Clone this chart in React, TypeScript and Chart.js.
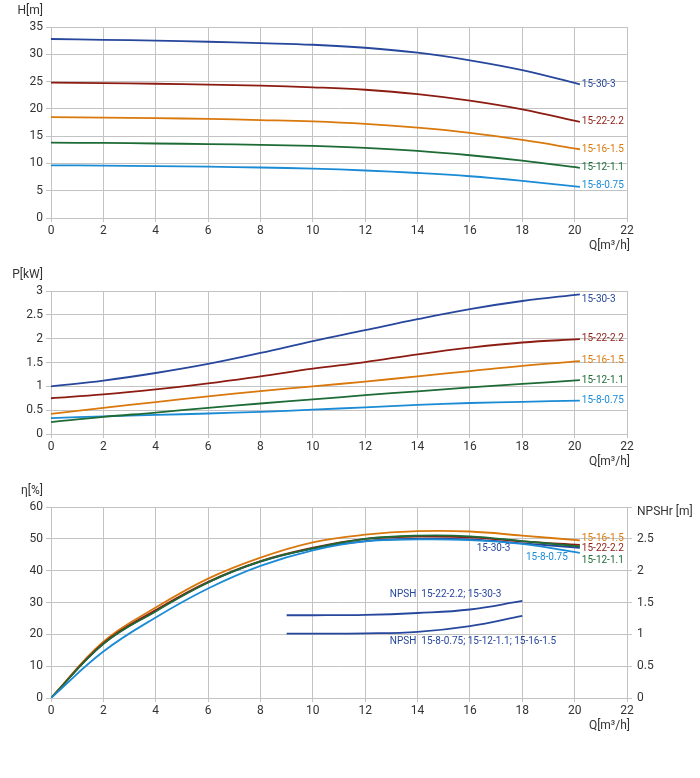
import { useEffect, useRef } from "react"
import { Chart, registerables } from "chart.js"

Chart.register(...registerables)

// flow points Q [m3/h]
const FLOW = [0, 2, 4, 6, 8, 10, 12, 14, 16, 18, 20.2]
const EFF_FLOW = [0, 2, 4, 6, 8, 10, 12, 14, 16, 18, 20.2]
const NPSH_FLOW = [9, 10, 12, 14, 16, 18]

const MODELS = ["15-30-3", "15-22-2.2", "15-16-1.5", "15-12-1.1", "15-8-0.75"]
const COLORS = ["#27479d", "#8c1c12", "#d9780c", "#1d6b35", "#1b8bd5"]

// H [m]
const HEAD_30 = [32.8, 32.65, 32.5, 32.3, 32.05, 31.75, 31.2, 30.3, 28.9, 27.1, 24.5]
const HEAD_22 = [24.8, 24.7, 24.6, 24.45, 24.25, 23.95, 23.5, 22.7, 21.5, 19.9, 17.6]
const HEAD_16 = [18.5, 18.4, 18.3, 18.15, 17.95, 17.7, 17.25, 16.55, 15.6, 14.3, 12.6]
const HEAD_12 = [13.8, 13.75, 13.65, 13.55, 13.4, 13.2, 12.85, 12.3, 11.5, 10.5, 9.2]
const HEAD_8 = [9.65, 9.6, 9.5, 9.4, 9.25, 9.05, 8.7, 8.25, 7.65, 6.8, 5.7]

// P [kW]
const POWER_30 = [1.0, 1.12, 1.28, 1.47, 1.7, 1.95, 2.18, 2.41, 2.62, 2.79, 2.93]
const POWER_22 = [0.75, 0.83, 0.935, 1.06, 1.21, 1.37, 1.51, 1.67, 1.81, 1.92, 1.99]
const POWER_16 = [0.42, 0.55, 0.67, 0.79, 0.9, 1.0, 1.1, 1.21, 1.32, 1.43, 1.53]
const POWER_12 = [0.25, 0.36, 0.45, 0.55, 0.64, 0.725, 0.815, 0.895, 0.98, 1.05, 1.13]
const POWER_8 = [0.335, 0.37, 0.4, 0.43, 0.465, 0.51, 0.56, 0.61, 0.65, 0.675, 0.7]

// eta [%]
const EFF_30 = [0, 17.0, 27.4, 36.3, 42.8, 46.9, 49.3, 50.0, 49.8, 48.6, 47.2]
const EFF_22 = [0, 17.2, 27.6, 36.5, 43.0, 47.2, 50.0, 50.7, 50.5, 49.2, 48.1]
const EFF_16 = [0, 17.7, 28.4, 37.5, 44.1, 48.9, 51.3, 52.4, 52.3, 51.0, 49.5]
const EFF_12 = [0, 17.0, 27.2, 36.3, 42.9, 47.0, 50.0, 51.0, 50.8, 49.3, 47.6]
const EFF_8 = [0, 14.6, 25.3, 34.4, 41.5, 46.4, 49.2, 49.8, 49.6, 48.4, 45.6]

// NPSHr [m]
const NPSH_HIGH = [1.3, 1.3, 1.305, 1.335, 1.39, 1.525]
const NPSH_LOW = [1.01, 1.01, 1.015, 1.04, 1.13, 1.29]

const GRID = "#c3c3c3"
const FONT = "Roboto"

const pts = (xs: number[], ys: number[]) => xs.map((x, i) => ({ x, y: ys[i] }))

const line = (label: string, color: string, data: { x: number; y: number }[], axis = "y") => ({
  label,
  data,
  borderColor: color,
  borderWidth: 1.8,
  pointRadius: 0,
  tension: 0.4,
  yAxisID: axis,
})

// draws titles and curve labels as canvas text
const textPlugin = {
  id: "pumpText",
  afterDraw(chart: any, _args: any, opts: any) {
    const { ctx, chartArea, scales } = chart
    ctx.save()
    ctx.textBaseline = "middle"
    ctx.font = `12px ${FONT}`
    ctx.fillStyle = "#333"
    ctx.textAlign = "right"
    ctx.fillText(opts.yTitle, 43, chartArea.top - 16)
    ctx.fillText("Q[m³/h]", 630, chartArea.bottom + 28)
    if (opts.rightTitle) {
      ctx.textAlign = "left"
      ctx.fillText(opts.rightTitle, 637, chartArea.top + 5)
    }
    ctx.font = `10px ${FONT}`
    ctx.textAlign = "left"
    for (const t of opts.items ?? []) {
      ctx.fillStyle = t.color
      const px = scales.x.getPixelForValue(t.x) + (t.dx ?? 0)
      const py = scales[t.axis ?? "y"].getPixelForValue(t.y) + (t.dy ?? 0)
      ctx.fillText(t.text, px, py)
    }
    ctx.restore()
  },
}

const tickFont = { family: FONT, size: 12 }

function xScale() {
  return {
    type: "linear",
    min: 0,
    max: 22,
    ticks: { stepSize: 2, padding: 2, color: "#333", font: tickFont },
    grid: { color: GRID, tickLength: 4 },
    border: { color: GRID },
    afterFit: (s: any) => {
      s.height = 20
    },
  }
}

function yScale(max: number, step: number) {
  return {
    type: "linear",
    position: "left",
    min: 0,
    max,
    ticks: { stepSize: step, padding: 3, color: "#333", font: tickFont, callback: (v: number) => String(v) },
    grid: { color: GRID, tickLength: 5 },
    border: { color: GRID },
    afterFit: (s: any) => {
      s.width = 51
    },
  }
}

function endLabels(series: number[][], flow: number[], dys: number[]) {
  return series.map((s, i) => ({
    text: MODELS[i],
    color: COLORS[i],
    x: flow[flow.length - 1],
    y: s[s.length - 1],
    dx: 2,
    dy: dys[i],
  }))
}

function useChart(ref: React.RefObject<HTMLCanvasElement | null>, build: () => any) {
  useEffect(() => {
    if (!ref.current) return
    const chart = new Chart(ref.current, build())
    return () => chart.destroy()
  }, [])
}

function headConfig() {
  const series = [HEAD_30, HEAD_22, HEAD_16, HEAD_12, HEAD_8]
  return {
    type: "line",
    data: { datasets: series.map((s, i) => line(MODELS[i], COLORS[i], pts(FLOW, s))) },
    options: {
      animation: false,
      responsive: false,
      layout: { padding: { top: 27, right: 73, bottom: 17, left: 0 } },
      scales: { x: xScale(), y: yScale(35, 5) },
      plugins: {
        legend: { display: false },
        tooltip: { enabled: false },
        pumpText: { yTitle: "H[m]", items: endLabels(series, FLOW, [0, 0, 0, 0, -1]) },
      },
    },
    plugins: [textPlugin],
  }
}

function powerConfig() {
  const series = [POWER_30, POWER_22, POWER_16, POWER_12, POWER_8]
  return {
    type: "line",
    data: { datasets: series.map((s, i) => line(MODELS[i], COLORS[i], pts(FLOW, s))) },
    options: {
      animation: false,
      responsive: false,
      layout: { padding: { top: 36, right: 73, bottom: 21, left: 0 } },
      scales: { x: xScale(), y: yScale(3, 0.5) },
      plugins: {
        legend: { display: false },
        tooltip: { enabled: false },
        pumpText: { yTitle: "P[kW]", items: endLabels(series, FLOW, [5, -1, -1, 0, 0]) },
      },
    },
    plugins: [textPlugin],
  }
}

function efficiencyConfig() {
  const series = [EFF_30, EFF_22, EFF_16, EFF_12, EFF_8]
  const order = [4, 3, 1, 2, 0]
  const datasets = order.map((i) => line(MODELS[i], COLORS[i], pts(EFF_FLOW, series[i])))
  datasets.push(line("NPSH 15-22-2.2; 15-30-3", COLORS[0], pts(NPSH_FLOW, NPSH_HIGH), "y1"))
  datasets.push(line("NPSH 15-8-0.75; 15-12-1.1; 15-16-1.5", COLORS[0], pts(NPSH_FLOW, NPSH_LOW), "y1"))
  const ends = endLabels(series, EFF_FLOW, [0, 3.5, -2, 14, 0])
  const items = [
    ends[2],
    ends[1],
    ends[3],
    { text: MODELS[0], color: COLORS[0], x: 16.26, y: 47.1 },
    { text: MODELS[4], color: COLORS[4], x: 18.14, y: 44.1 },
    { text: "NPSH  15-22-2.2; 15-30-3", color: COLORS[0], x: 12.94, y: 1.62, axis: "y1" },
    { text: "NPSH  15-8-0.75; 15-12-1.1; 15-16-1.5", color: COLORS[0], x: 12.94, y: 0.88, axis: "y1" },
  ]
  return {
    type: "line",
    data: { datasets },
    options: {
      animation: false,
      responsive: false,
      layout: { padding: { top: 32, right: 0, bottom: 60, left: 0 } },
      scales: {
        x: xScale(),
        y: yScale(60, 10),
        y1: {
          type: "linear",
          position: "right",
          min: 0,
          max: 3,
          ticks: {
            stepSize: 0.5,
            padding: 5,
            color: "#333",
            font: tickFont,
            callback: (v: number) => (v === 3 ? "" : String(v)),
          },
          grid: { drawOnChartArea: false, color: GRID, tickLength: 5 },
          border: { color: GRID },
          afterFit: (s: any) => {
            s.width = 73
          },
        },
      },
      plugins: {
        legend: { display: false },
        tooltip: { enabled: false },
        pumpText: { yTitle: "η[%]", rightTitle: "NPSHr [m]", items },
      },
    },
    plugins: [textPlugin],
  }
}

export default function App() {
  const headRef = useRef<HTMLCanvasElement>(null)
  const powerRef = useRef<HTMLCanvasElement>(null)
  const effRef = useRef<HTMLCanvasElement>(null)

  useChart(headRef, headConfig)
  useChart(powerRef, powerConfig)
  useChart(effRef, efficiencyConfig)

  return (
    <div style={{ position: "absolute", left: 0, top: 0, width: 700, height: 778, background: "#fff" }}>
      <canvas ref={headRef} width={700} height={255} style={{ display: "block" }} />
      <canvas ref={powerRef} width={700} height={220} style={{ display: "block" }} />
      <canvas ref={effRef} width={700} height={303} style={{ display: "block" }} />
    </div>
  )
}
